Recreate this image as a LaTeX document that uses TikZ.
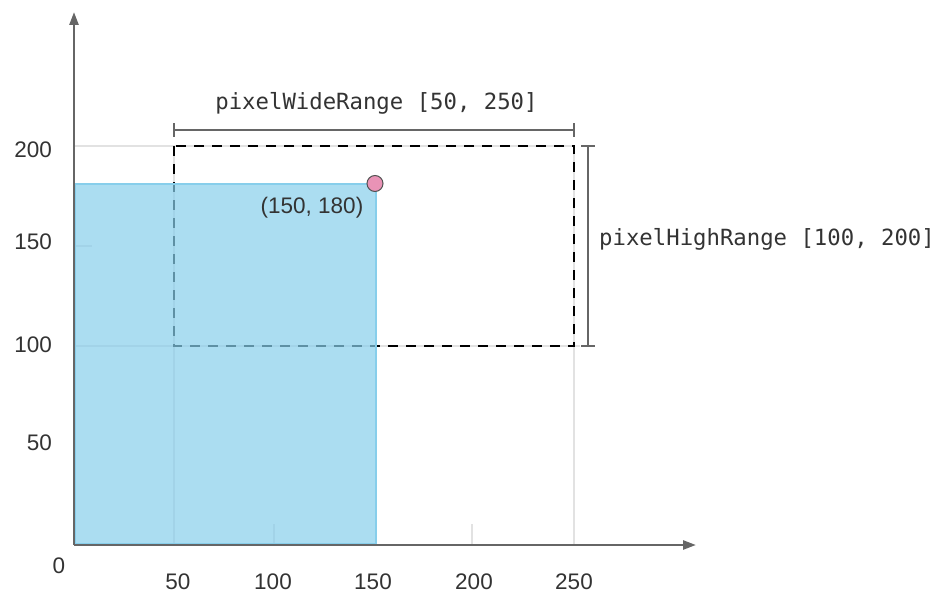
\documentclass[tikz,border=0pt]{standalone}
\usepackage{fontspec}
\setmainfont{Liberation Sans}
\newfontfamily\monofont{DejaVu Sans Mono}
\usetikzlibrary{arrows.meta}
\definecolor{axisgray}{HTML}{666666}
\definecolor{gridgray}{HTML}{E2E2E2}
\definecolor{textgray}{HTML}{333333}
\definecolor{skyb}{RGB}{135,206,235}
\definecolor{pinkpt}{HTML}{E993B6}
\tikzset{
  axisline/.style={draw=axisgray,line width=2.5pt,-{Triangle[length=13pt,width=9pt]}},
  gridline/.style={draw=gridgray,line width=2pt},
  rangebar/.style={draw=axisgray,line width=2pt},
  ticklbl/.style={text=textgray,font=\fontsize{22.5}{26}\selectfont,inner sep=0pt},
  monolbl/.style={text=textgray,font=\monofont\fontsize{22.3}{26}\selectfont,inner sep=0pt},
  dashbox/.style={draw=black,line width=2pt,dash pattern=on 10pt off 8pt},
  barbox/.style={fill=skyb,fill opacity=0.7,draw=skyb,line width=2pt},
}
\begin{document}
\begin{tikzpicture}[x=1pt,y=-1pt]
\useasboundingbox (0,0) rectangle (946,602);
% grid lines
\draw[gridline] (74,146) -- (574,146);
\draw[gridline] (74,346) -- (580,346);
\draw[gridline] (174,146) -- (174,545);
\draw[gridline] (574,146) -- (574,545);
\draw[gridline] (274,524) -- (274,545);
\draw[gridline] (472,524) -- (472,545);
\draw[gridline] (74,245.5) -- (92,245.5);
% dashed range box
\draw[dashbox] (174,146) rectangle (574,346);
% blue bar
\draw[barbox] (75,183.5) rectangle (376,544);
% axes
\coordinate (O) at (74,545);
\coordinate (ytip) at (74,12);
\coordinate (xtip) at (696,545);
\draw[axisline] (O) -- (ytip);
\draw[axisline] (O) -- (xtip);
% range bars
\coordinate (wl) at (174,130);
\coordinate (wr) at (574,130);
\draw[rangebar] (wl) -- (wr);
\draw[rangebar] (174,123) -- (174,137);
\draw[rangebar] (574,123) -- (574,137);
\coordinate (ht) at (588,146);
\coordinate (hb) at (588,346);
\draw[rangebar] (ht) -- (hb);
\draw[rangebar] (581,146) -- (595,146);
\draw[rangebar] (581,346) -- (595,346);
% point
\node[circle,fill=pinkpt,draw=axisgray!80!black,line width=1pt,minimum size=16pt,inner sep=0pt] (pt) at (375,183.5) {};
% labels
\node[ticklbl] (l0) at (59,566) {0};
\node[ticklbl] (lx50) at (178,582) {50};
\node[ticklbl] (lx100) at (273,582) {100};
\node[ticklbl] (lx150) at (373,582) {150};
\node[ticklbl] (lx200) at (474,582) {200};
\node[ticklbl] (lx250) at (574,582) {250};
\node[ticklbl,anchor=east] (ly200) at (52,149.5) {200};
\node[ticklbl,anchor=east] (ly150) at (52,242) {150};
\node[ticklbl,anchor=east] (ly100) at (52,345) {100};
\node[ticklbl,anchor=east] (ly50) at (52,443) {50};
\node[ticklbl] (ptl) at (312,207.5) {(150, 180)};
\node[monolbl,anchor=base] (wlbl) at (376.5,110) {pixelWideRange [50, 250]};
\node[monolbl,anchor=base west] (hlbl) at (599,245) {pixelHighRange [100, 200]};
\end{tikzpicture}
\end{document}
